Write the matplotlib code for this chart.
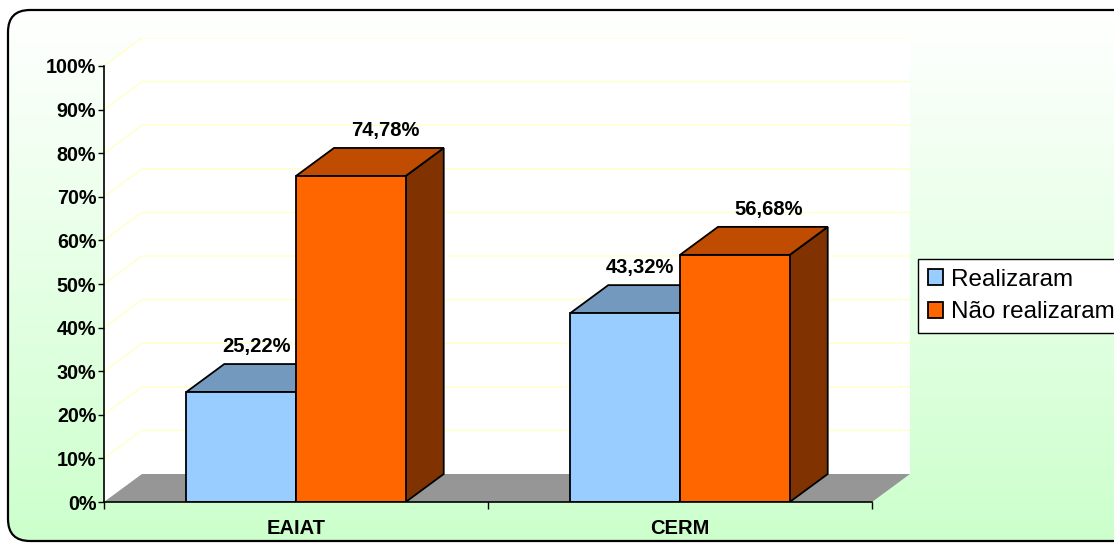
import numpy as np
import matplotlib.pyplot as plt
from matplotlib.patches import Rectangle, Polygon, FancyBboxPatch

plt.rcParams['font.family'] = ['Liberation Sans', 'DejaVu Sans']

categories = ['EAIAT', 'CERM']
series_names = ['Realizaram', 'Não realizaram']
realizaram = [25.22, 43.32]
nao_realizaram = [74.78, 56.68]
y_ticks = list(range(0, 101, 10))

# colours: front, top, side
blue = ('#99CCFF', '#7399BF', '#4D6680')
orange = ('#FF6600', '#BF4C00', '#803300')
grid_color = '#FFFFC8'
floor_color = '#969696'

W, H = 1114, 544
fig = plt.figure(figsize=(W / 100, H / 100), dpi=100)

# background with the rounded frame
bg = fig.add_axes([0, 0, 1, 1])
bg.set_xlim(0, W)
bg.set_ylim(H, 0)
bg.axis('off')
frame = FancyBboxPatch((8, 10), W + 40, 531, boxstyle='round,pad=0,rounding_size=22',
                       facecolor='none', edgecolor='black', linewidth=1.6, zorder=3)
bg.add_patch(frame)
grad = np.linspace(0, 1, 256)[:, None]
top_c = np.array([1.0, 1.0, 1.0])
bot_c = np.array([0.80, 1.0, 0.80])
img = top_c[None, None, :] * (1 - grad[:, :, None]) + bot_c[None, None, :] * grad[:, :, None]
im = bg.imshow(img, extent=(8, W + 48, 541, 10), aspect='auto', zorder=1)
im.set_clip_path(frame)

# plot area: 384 px per category, 4.36 px per percent
px_x, px_y = 384.0, 4.36
depth_x, depth_y = 38 / px_x, 28 / px_y
left, bottom = 104, 502
n_cat = len(categories)
ax = fig.add_axes([left / W, (H - bottom) / H,
                   (n_cat + depth_x) * px_x / W, (100 + depth_y) * px_y / H])
ax.set_xlim(0, n_cat + depth_x)
ax.set_ylim(0, 100 + depth_y)
ax.patch.set_visible(False)
for s in ax.spines.values():
    s.set_visible(False)

# walls and floor
ax.add_patch(Polygon([(0, 0), (depth_x, depth_y), (depth_x, 100 + depth_y), (0, 100)],
                     facecolor='white', edgecolor='none', zorder=1))
ax.add_patch(Rectangle((depth_x, depth_y), n_cat, 100, facecolor='white', edgecolor='none', zorder=1))
ax.add_patch(Polygon([(0, 0), (n_cat, 0), (n_cat + depth_x, depth_y), (depth_x, depth_y)],
                     facecolor=floor_color, edgecolor='none', zorder=1))
for v in y_ticks[1:]:
    ax.plot([0, depth_x, n_cat + depth_x], [v, v + depth_y, v + depth_y],
            color=grid_color, lw=1, zorder=2)

bar_w = 1 / 3.5


def draw_bar(x0, h, cols):
    front, top, side = cols
    ax.add_patch(Polygon([(x0 + bar_w, 0), (x0 + bar_w + depth_x, depth_y),
                          (x0 + bar_w + depth_x, h + depth_y), (x0 + bar_w, h)],
                         facecolor=side, edgecolor='black', lw=1.3, zorder=4))
    ax.add_patch(Polygon([(x0, h), (x0 + bar_w, h), (x0 + bar_w + depth_x, h + depth_y),
                          (x0 + depth_x, h + depth_y)],
                         facecolor=top, edgecolor='black', lw=1.3, zorder=4))
    r = Rectangle((x0, 0), bar_w, h, facecolor=front, edgecolor='black', lw=1.3, zorder=4)
    ax.add_patch(r)
    return r


handles = []
for i in range(n_cat):
    x_b = i + 0.5 - bar_w
    x_o = i + 0.5
    hb = draw_bar(x_b, realizaram[i], blue)
    ho = draw_bar(x_o, nao_realizaram[i], orange)
    ax.text(x_b + bar_w / 2 + depth_x * 0.4, realizaram[i] + depth_y + 4,
            f'{realizaram[i]:.2f}%'.replace('.', ','), ha='center', va='center',
            fontsize=14.5, fontweight='bold', zorder=6)
    ax.text(x_o + bar_w / 2 + depth_x * 0.9, nao_realizaram[i] + depth_y + 4,
            f'{nao_realizaram[i]:.2f}%'.replace('.', ','), ha='center', va='center',
            fontsize=14.5, fontweight='bold', zorder=6)
    if i == 0:
        handles = [hb, ho]

# axes lines and ticks
ax.plot([0, 0], [0, 100], color='black', lw=1.2, zorder=5, clip_on=False)
ax.plot([0, n_cat], [0, 0], color='black', lw=1.2, zorder=5, clip_on=False)
ax.set_yticks(y_ticks)
ax.set_yticklabels([f'{v}%' for v in y_ticks], fontsize=14.2, fontweight='bold')
ax.tick_params(axis='y', direction='out', length=4.5, width=1, pad=1)
ax.set_xticks([i + 0.5 for i in range(n_cat)])
ax.set_xticklabels(categories, fontsize=14.5, fontweight='bold')
ax.set_xticks(range(n_cat + 1), minor=True)
ax.tick_params(axis='x', which='major', length=0, pad=12)
ax.tick_params(axis='x', which='minor', direction='out', length=5, width=1)

leg = fig.legend(handles, series_names, loc='center left', bbox_to_anchor=(918 / W, 1 - 296 / H),
                 borderaxespad=0, fontsize=17.5, frameon=True, fancybox=False,
                 handlelength=0.62, handleheight=0.62, handletextpad=0.35,
                 borderpad=0.4, labelspacing=0.45)
leg.get_frame().set_edgecolor('black')
leg.get_frame().set_linewidth(1)
leg.get_frame().set_facecolor('white')
leg.get_frame().set_alpha(1)

fig.savefig('out.png', dpi=100)
